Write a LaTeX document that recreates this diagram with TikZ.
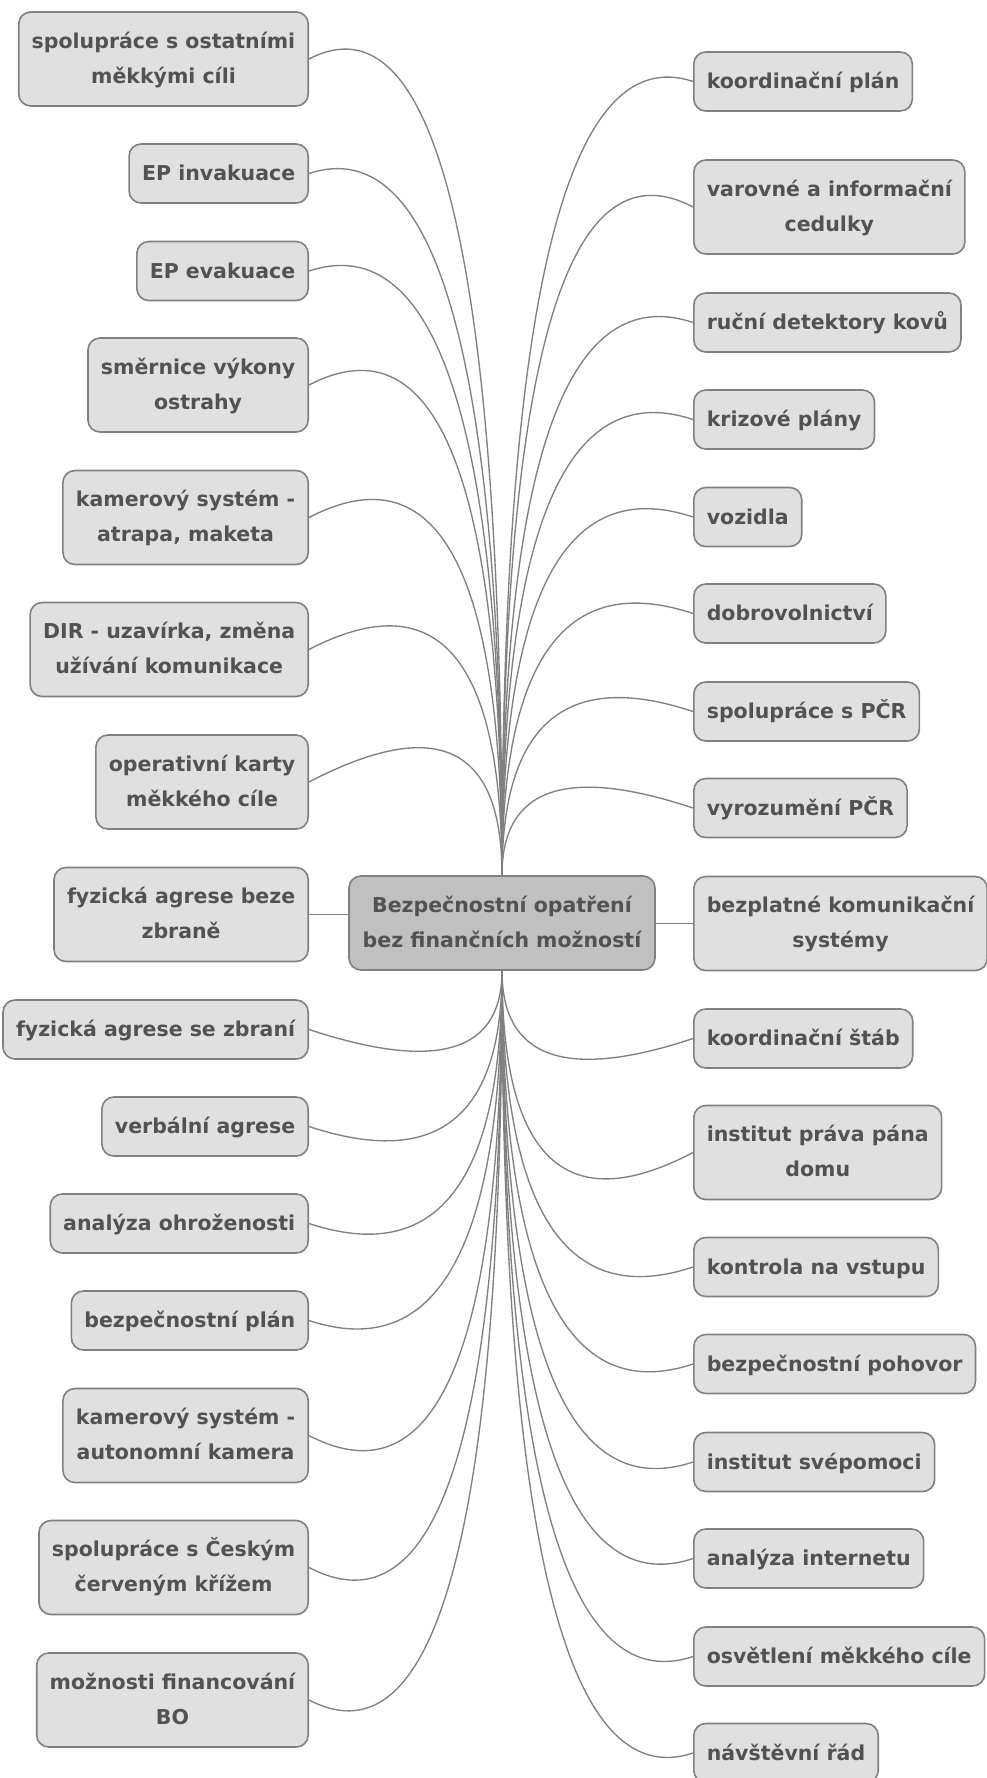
\documentclass[tikz,border=0pt]{standalone}
\usepackage{fontspec}
\setmainfont{DejaVu Sans}
\usetikzlibrary{calc}
\definecolor{lineGray}{RGB}{128,128,128}
\definecolor{leafFill}{RGB}{224,224,224}
\definecolor{rootFill}{RGB}{192,192,192}
\definecolor{labelGray}{RGB}{82,82,82}
\newcommand\mapfont{\fontsize{20.5}{35}\selectfont\bfseries}
% curved branch: node, its anchor, anchor on the root, side of the bulge
\newcommand\branch[4]{%
  \draw[link] let \p1=(#1.#2), \p2=(root.#3),
      \p3=($(#1.center)!2.1!(#1.#4)$) in
    (\p1) .. controls ($(\p1)!0.667!(\x2,\y3)$)
             and ($(\p2)!0.667!(\x2,\y3)$) .. (\p2);
}

\begin{document}
\begin{tikzpicture}[
  x=1pt, y=-1pt,
  link/.style={
    draw=lineGray,
    line width=1.35pt,
  },
  leaf/.style={
    draw=lineGray,
    fill=leafFill,
    text=labelGray,
    rounded corners=12pt,
    line width=1.6pt,
    font=\mapfont,
    align=center,
    inner xsep=13pt,
    inner ysep=12pt,
    minimum height=58.5pt,
    execute at begin node=\strut,
    execute at end node=\strut,
  },
  tall/.style={minimum height=94pt, text height=59.2pt, text depth=10.4pt},
  lleaf/.style={leaf, anchor=east},
  rleaf/.style={leaf, anchor=west},
  hub/.style={
    leaf, tall,
    fill=rootFill,
    minimum width=306pt,
  },
]
  \useasboundingbox (0,0) rectangle (987,1778);

  \node[hub] (root) at (502,923)
    {Bezpečnostní opatření\\bez finančních možností};

  % left side
  \node[lleaf, tall] (l1) at (309,59) {spolupráce s ostatními\\měkkými cíli};
  \node[lleaf] (l2) at (309,173.5) {EP invakuace};
  \node[lleaf] (l3) at (309,271) {EP evakuace};
  \node[lleaf, tall] (l4) at (309,385) {směrnice výkony\\ostrahy};
  \node[lleaf, tall] (l5) at (309,517.5) {kamerový systém -\\atrapa, maketa};
  \node[lleaf, tall] (l6) at (309,649.5) {DIR - uzavírka, změna\\užívání komunikace};
  \node[lleaf, tall] (l7) at (309,782) {operativní karty\\měkkého cíle};
  \node[lleaf, tall] (l8) at (309,914.5) {fyzická agrese beze\\zbraně};
  \node[lleaf] (l9) at (309,1029.5) {fyzická agrese se zbraní};
  \node[lleaf] (l10) at (309,1126.5) {verbální agrese};
  \node[lleaf] (l11) at (309,1223.5) {analýza ohroženosti};
  \node[lleaf] (l12) at (309,1320.5) {bezpečnostní plán};
  \node[lleaf, tall] (l13) at (309,1435.5) {kamerový systém -\\autonomní kamera};
  \node[lleaf, tall] (l14) at (309,1567.5) {spolupráce s Českým\\červeným křížem};
  \node[lleaf, tall] (l15) at (309,1700) {možnosti financování\\BO};

  % right side
  \node[rleaf] (r1) at (693,81.5) {koordinační plán};
  \node[rleaf, tall] (r2) at (693,207) {varovné a informační\\cedulky};
  \node[rleaf] (r3) at (693,322.5) {ruční detektory kovů};
  \node[rleaf] (r4) at (693,419.5) {krizové plány};
  \node[rleaf] (r5) at (693,517) {vozidla};
  \node[rleaf] (r6) at (693,613.5) {dobrovolnictví};
  \node[rleaf] (r7) at (693,711.5) {spolupráce s PČR};
  \node[rleaf] (r8) at (693,808) {vyrozumění PČR};
  \node[rleaf, tall] (r9) at (693,923.5) {bezplatné komunikační\\systémy};
  \node[rleaf] (r10) at (693,1038.5) {koordinační štáb};
  \node[rleaf, tall] (r11) at (693,1152.5) {institut práva pána\\domu};
  \node[rleaf] (r12) at (693,1267) {kontrola na vstupu};
  \node[rleaf] (r13) at (693,1364) {bezpečnostní pohovor};
  \node[rleaf] (r14) at (693,1462) {institut svépomoci};
  \node[rleaf] (r15) at (693,1558.5) {analýza internetu};
  \node[rleaf] (r16) at (693,1656.5) {osvětlení měkkého cíle};
  \node[rleaf] (r17) at (693,1753) {návštěvní řád};

  \foreach \b in {l1,l2,l3,l4,l5,l6,l7}
    {\branch{\b}{east}{north}{north}}
  \foreach \b in {l9,l10,l11,l12,l13,l14,l15}
    {\branch{\b}{east}{south}{south}}
  \foreach \b in {r1,r2,r3,r4,r5,r6,r7,r8}
    {\branch{\b}{west}{north}{north}}
  \foreach \b in {r10,r11,r12,r13,r14,r15,r16,r17}
    {\branch{\b}{west}{south}{south}}
  \draw[link] (l8.east) -- (root.west |- l8.east);
  \draw[link] (r9.west) -- (root.east |- r9.west);

\end{tikzpicture}
\end{document}
